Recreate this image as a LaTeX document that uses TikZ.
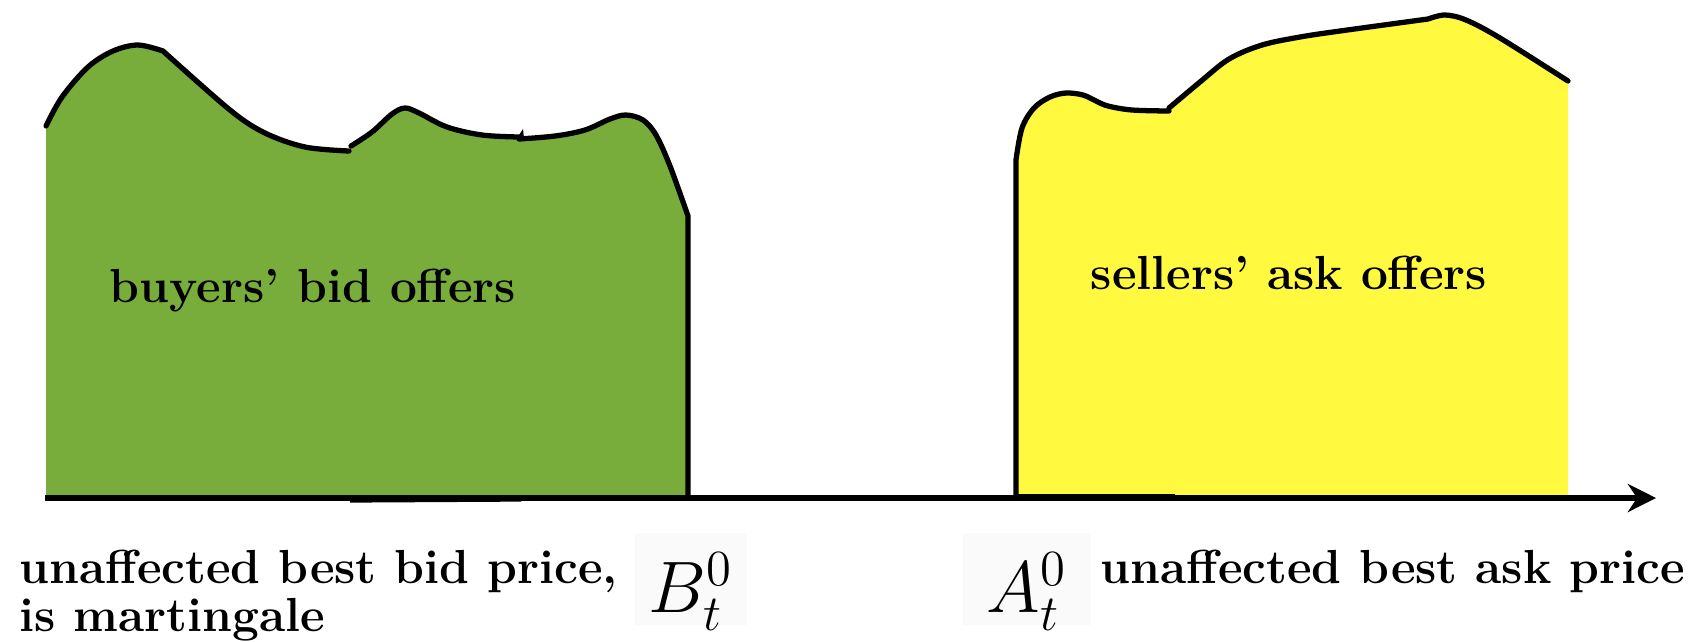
\documentclass[tikz,border=0pt]{standalone}
\usepackage{amsmath}
\usepackage{tikz}
\definecolor{bidgreen}{RGB}{120,173,60}
\definecolor{askyellow}{RGB}{255,250,64}
\usetikzlibrary{
    arrows.meta,
    positioning
}

\begin{document}
\begin{tikzpicture}[x=0.01cm, y=-0.01cm, >=Stealth,
    outline/.style={line width=1.5pt, line cap=round, line join=round},
    lbl/.style={font=\fontsize{13.6}{14}\selectfont\bfseries, inner sep=0pt},
    price/.style={inner sep=0pt, font=\fontsize{21}{24}\selectfont}]
    \useasboundingbox (0,0) rectangle (1690,641);
    % bid side
    \fill[bidgreen] (46,498) -- (46,126)
        -- plot[smooth, tension=0.55] coordinates {(46,126) (62,97) (88,67) (113,51) (138,45) (163,51)}
        -- plot[smooth, tension=0.55] coordinates {(163,51) (230,110) (265,133) (305,147) (349,151)}
        -- plot[smooth, tension=0.55] coordinates {(351,146) (372,132) (392,114) (405,108) (419,113) (447,127) (482,135) (519,137)}
        -- plot[smooth, tension=0.55] coordinates {(519,139) (555,136) (585,130) (610,119) (626,115) (643,120) (656,135) (670,166) (688,216)}
        -- (688,498) -- cycle;
    \draw[outline] plot[smooth, tension=0.55] coordinates {(46,126) (62,97) (88,67) (113,51) (138,45) (163,51)}
        -- plot[smooth, tension=0.55] coordinates {(163,51) (230,110) (265,133) (305,147) (349,151)};
    \draw[outline] plot[smooth, tension=0.55] coordinates {(351,146) (372,132) (392,114) (405,108) (419,113) (447,127) (482,135) (519,137)};
    \fill (517,138) -- (523,129) -- (524,138) -- cycle;
    \draw[outline] plot[smooth, tension=0.55] coordinates {(519,139) (555,136) (585,130) (610,119) (626,115) (643,120) (656,135) (670,166) (688,216)}
        -- (688,498);
    % ask side
    \fill[askyellow] (1016,498) -- (1016,160)
        -- plot[smooth, tension=0.55] coordinates {(1016,160) (1022,128) (1034,108) (1050,97) (1066,93) (1083,95) (1096,101) (1108,106) (1132,110) (1169,111)}
        -- plot[smooth, tension=0.55] coordinates {(1169,108) (1200,82) (1229,59) (1262,45) (1300,37) (1340,31) (1428,19)}
        -- plot[smooth, tension=0.55] coordinates {(1428,19) (1445,15) (1466,20) (1500,38) (1568,81)}
        -- (1568,498) -- cycle;
    \draw[outline] (1016,497) -- (1016,160)
        -- plot[smooth, tension=0.55] coordinates {(1016,160) (1022,128) (1034,108) (1050,97) (1066,93) (1083,95) (1096,101) (1108,106) (1132,110) (1169,111)};
    \draw[outline] plot[smooth, tension=0.55] coordinates {(1169,108) (1200,82) (1229,59) (1262,45) (1300,37) (1340,31) (1428,19)}
        -- plot[smooth, tension=0.55] coordinates {(1428,19) (1445,15) (1466,20) (1500,38) (1568,81)};
    % price axis
    \coordinate (origin) at (45,498);
    \coordinate (tip) at (1656,498);
    \draw[line width=1.5pt, -{Stealth[length=8pt, width=8pt]}] (origin) -- (tip);
    \draw[line width=1.2pt] (350,500.5) -- (521,499.5);
    \draw[line width=1.6pt] (1016,497) -- (1175,497);
    % labels
    \node[lbl] (bidtext) at (313,291) {buyers' bid offers};
    \node[lbl] (asktext) at (1289,273) {sellers' ask offers};
    \node[lbl, anchor=base west] (bidlabel) at (19,583) {unaffected best bid price,};
    \node[lbl, anchor=base west] (martlabel) at (19,631) {is martingale};
    \node[lbl, anchor=base west] (asklabel) at (1100,583) {unaffected best ask price};
    \fill[black!2] (635,533) rectangle (747,625);
    \fill[black!2] (963,533) rectangle (1091,625);
    \node[price, anchor=base] (bidprice) at (691,612) {$B_t^0$};
    \node[price, anchor=base] (askprice) at (1027,612) {$A_t^0$};
\end{tikzpicture}
\end{document}
